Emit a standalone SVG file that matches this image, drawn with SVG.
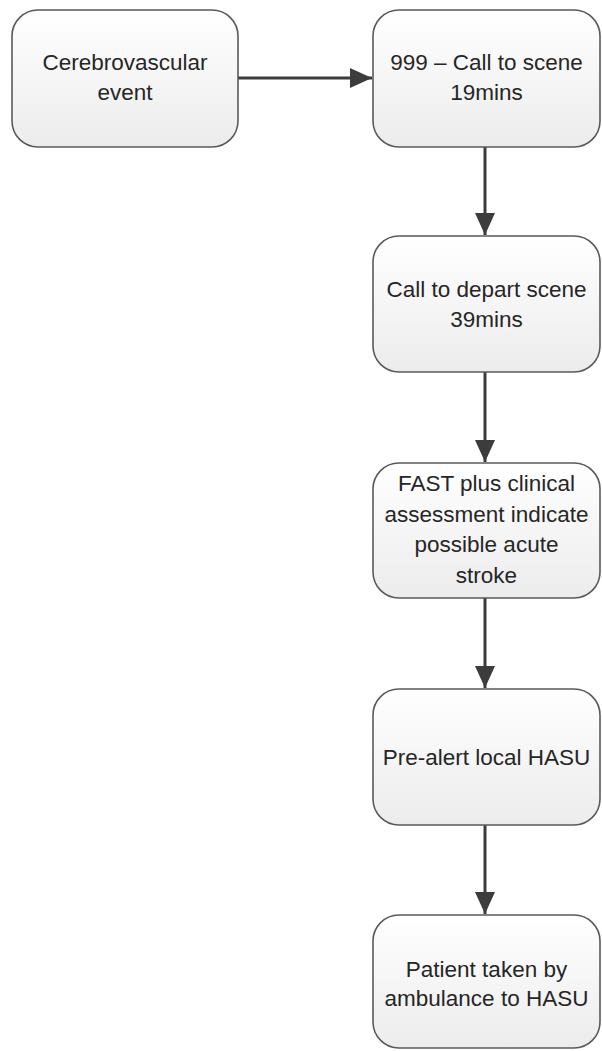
<svg xmlns="http://www.w3.org/2000/svg" width="602" height="1051" viewBox="0 0 602 1051">
<defs>
<linearGradient id="g" x1="0" y1="0" x2="0" y2="1">
<stop offset="0" stop-color="#ffffff"/>
<stop offset="1" stop-color="#ececec"/>
</linearGradient>
<marker id="arr" viewBox="0 0 22 20" refX="22" refY="10" markerWidth="22" markerHeight="20" markerUnits="userSpaceOnUse" orient="auto">
<path d="M0,0 L22,10 L0,20 Z" fill="#3c3c3c"/>
</marker>
</defs>
<style>
.box{fill:url(#g);stroke:#5a5a5a;stroke-width:1.6}
.t{font-family:"Liberation Sans",Arial,sans-serif;font-size:22.5px;fill:#262626;text-anchor:middle}
.c{stroke:#3c3c3c;stroke-width:3;fill:none}
</style>
<g id="connectors">
<line class="c" x1="238" y1="78" x2="372" y2="78" marker-end="url(#arr)"/>
<line class="c" x1="485" y1="147" x2="485" y2="235" marker-end="url(#arr)"/>
<line class="c" x1="485" y1="372" x2="485" y2="462" marker-end="url(#arr)"/>
<line class="c" x1="485" y1="598" x2="485" y2="688" marker-end="url(#arr)"/>
<line class="c" x1="485" y1="825" x2="485" y2="914" marker-end="url(#arr)"/>
</g>
<g id="n1">
<rect class="box" x="12" y="10" width="226" height="137" rx="26"/>
<text class="t" x="125" y="70">Cerebrovascular</text>
<text class="t" x="125" y="100">event</text>
</g>
<g id="n2">
<rect class="box" x="373" y="10" width="227" height="137" rx="26"/>
<text class="t" x="486.5" y="70">999 – Call to scene</text>
<text class="t" x="486.5" y="100">19mins</text>
</g>
<g id="n3">
<rect class="box" x="373" y="236" width="227" height="136" rx="26"/>
<text class="t" x="486.5" y="297">Call to depart scene</text>
<text class="t" x="486.5" y="327">39mins</text>
</g>
<g id="n4">
<rect class="box" x="373" y="463" width="227" height="135" rx="26"/>
<text class="t" x="486.5" y="491">FAST plus clinical</text>
<text class="t" x="486.5" y="522">assessment indicate</text>
<text class="t" x="486.5" y="552">possible acute</text>
<text class="t" x="486.5" y="583">stroke</text>
</g>
<g id="n5">
<rect class="box" x="373" y="689" width="227" height="136" rx="26"/>
<text class="t" x="486.5" y="765">Pre-alert local HASU</text>
</g>
<g id="n6">
<rect class="box" x="373" y="915" width="227" height="133" rx="26"/>
<text class="t" x="486.5" y="977">Patient taken by</text>
<text class="t" x="486.5" y="1006">ambulance to HASU</text>
</g>
</svg>
